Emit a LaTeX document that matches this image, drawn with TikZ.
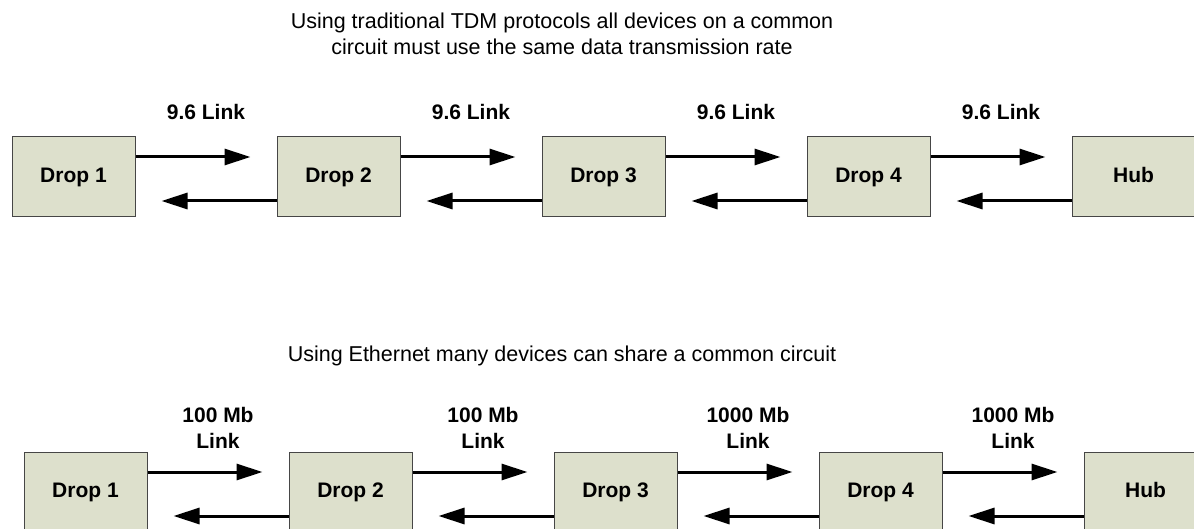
\documentclass[tikz,border=0pt]{standalone}
\usepackage{fontspec}
\setmainfont{Liberation Sans}
\usetikzlibrary{arrows.meta}
\definecolor{boxfill}{RGB}{221,224,204}
\definecolor{boxline}{RGB}{70,70,70}
\tikzset{
  dropbox/.style={draw=boxline, line width=1pt, fill=boxfill, minimum width=123pt, minimum height=80pt, inner sep=0pt, text height=15pt, text depth=4pt, font=\fontsize{21}{24}\selectfont\bfseries},
  link/.style={line width=3pt, -{Triangle[length=26pt,width=16pt]}},
  lbl/.style={font=\fontsize{21}{26}\selectfont\bfseries, align=center},
  ttl/.style={font=\fontsize{21.5}{25.5}\selectfont, align=center}
}
\begin{document}
\begin{tikzpicture}[x=1pt,y=-1pt]
\useasboundingbox (0,0) rectangle (1194,529);
\clip (0,0) rectangle (1194,529);
% titles
\node[ttl] (t1) at (562,34) {Using traditional TDM protocols all devices on a common\\circuit must use the same data transmission rate};
\node[ttl] (t2) at (562,356) {Using Ethernet many devices can share a common circuit};
% top row
\foreach \i/\x/\t in {1/73.5/Drop 1,2/338.5/Drop 2,3/603.5/Drop 3,4/868.5/Drop 4,5/1133.5/Hub}{
  \node[dropbox] (a\i) at (\x,177) {\t};
}
\foreach \i/\j in {1/2,2/3,3/4,4/5}{
  \coordinate (ar\i) at ([xshift=115pt,yshift=20pt]a\i.east);
  \coordinate (al\i) at ([xshift=-115pt,yshift=-24pt]a\j.west);
  \draw[link] ([yshift=20pt]a\i.east) -- (ar\i);
  \draw[link] ([yshift=-24pt]a\j.west) -- (al\i);
}
\node[lbl] (l1) at (206,112) {9.6 Link};
\node[lbl] (l2) at (471,112) {9.6 Link};
\node[lbl] (l3) at (736,112) {9.6 Link};
\node[lbl] (l4) at (1001,112) {9.6 Link};
% bottom row
\foreach \i/\x/\t in {1/85.5/Drop 1,2/350.5/Drop 2,3/615.5/Drop 3,4/880.5/Drop 4,5/1145.5/Hub}{
  \node[dropbox] (b\i) at (\x,492) {\t};
}
\foreach \i/\j in {1/2,2/3,3/4,4/5}{
  \coordinate (br\i) at ([xshift=115pt,yshift=20pt]b\i.east);
  \coordinate (bl\i) at ([xshift=-115pt,yshift=-24pt]b\j.west);
  \draw[link] ([yshift=20pt]b\i.east) -- (br\i);
  \draw[link] ([yshift=-24pt]b\j.west) -- (bl\i);
}
\node[lbl] (m1) at (218,428) {100 Mb\\Link};
\node[lbl] (m2) at (483,428) {100 Mb\\Link};
\node[lbl] (m3) at (748,428) {1000 Mb\\Link};
\node[lbl] (m4) at (1013,428) {1000 Mb\\Link};
\end{tikzpicture}
\end{document}
